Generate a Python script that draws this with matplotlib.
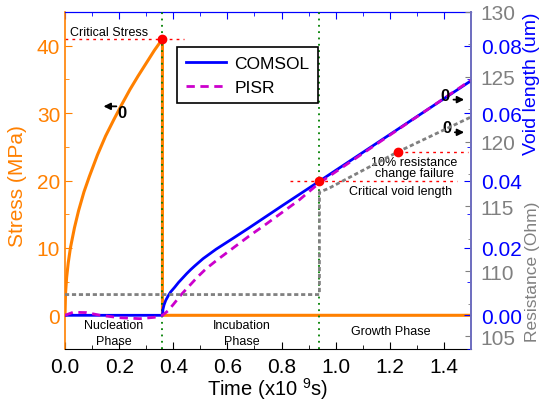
import matplotlib
matplotlib.use('Agg')
import matplotlib.pyplot as plt
from matplotlib.ticker import MultipleLocator

plt.rcParams['font.family'] = ['Liberation Sans', 'DejaVu Sans']
plt.rcParams['mathtext.fontset'] = 'custom'
plt.rcParams['mathtext.rm'] = 'Liberation Sans'

# stress (MPa) vs time (x1e9 s)
stress_t = [0, 0.002, 0.006, 0.012, 0.02, 0.035, 0.05, 0.07, 0.09, 0.12, 0.15, 0.18, 0.21,
            0.24, 0.27, 0.30, 0.33, 0.36, 0.36, 1.5]
stress = [0, 3.3, 5.6, 7.8, 10.0, 13.0, 15.5, 18.3, 20.6, 23.8, 26.6, 29.0, 31.3,
          33.5, 35.5, 37.4, 39.3, 41, 0, 0]

# void length (um)
comsol_t = [0, 0.36, 0.362, 0.366, 0.372, 0.38, 0.39, 0.405, 0.42, 0.435, 0.45, 0.465, 0.48, 0.51,
            0.558, 0.62, 0.681, 0.804, 0.94, 1.5]
comsol_v = [0, 0, 0.0018, 0.0031, 0.0044, 0.0056, 0.0069, 0.0083, 0.0098, 0.0111, 0.0124, 0.0136, 0.0147,
            0.0168, 0.0196, 0.0228, 0.0260, 0.0326, 0.0398, 0.0696]
pisr_t = [0, 0.03, 0.08, 0.13, 0.2, 0.276, 0.33, 0.36, 0.38, 0.40, 0.43, 0.46, 0.49, 0.521, 0.56,
          0.62, 0.68, 0.742, 0.80, 0.865, 0.94, 1.5]
pisr_v = [0, 0.0009, 0.0008, 0.0, -0.0007, -0.001, -0.0006, 0, 0.0013, 0.0032, 0.0062, 0.0088, 0.0114,
          0.0138, 0.0163, 0.0199, 0.0235, 0.0270, 0.0304, 0.0342, 0.0393, 0.0698]

# resistance (Ohm)
res_t = [0, 0.94, 0.94, 0.975, 1.229, 1.5]
res = [108.2, 108.2, 116.1, 116.4, 119.2, 121.9]

# critical points
t_crit = 0.36
stress_crit = 41
t_growth = 0.94
void_crit = 0.04
t_fail = 1.229
res_fail = 119.2

orange = '#ff8000'
blue = '#0000ff'
magenta = '#cc00cc'
gray = '#808080'
green = '#008000'
red = '#ff0000'
spine_r = '#7070c0'

fig = plt.figure(figsize=(5.43, 4.02), dpi=100)
ax = fig.add_axes([65/543, 1-350/402, 406/543, 337/402])
ax2 = ax.twinx()
ax3 = ax.twinx()

# stress
ax.plot(stress_t, stress, color=orange, lw=2.2, zorder=3)
ax.axvline(t_crit, color=green, lw=1.3, ls=(0, (1, 2.5)), zorder=4)
ax.axvline(t_growth, color=green, lw=1.3, ls=(0, (1, 2.5)), zorder=4)
ax.plot([0, 0.44], [stress_crit, stress_crit], color=red, lw=1, ls=(0, (2, 3)))
ax.plot([t_crit], [stress_crit], 'o', color=red, ms=6, zorder=5)
ax.set_xlim(0, 1.5)
ax.set_ylim(-5, 45)

# void length
ax2.plot(comsol_t, comsol_v, color=blue, lw=2, label='COMSOL', zorder=3)
ax2.plot(pisr_t, pisr_v, color=magenta, lw=2, ls=(0, (3, 2)), label='PISR', zorder=3)
ax2.plot([0.83, 1.45], [void_crit, void_crit], color=red, lw=1, ls=(0, (2, 3)))
ax2.plot([t_growth], [void_crit], 'o', color=red, ms=6, zorder=5)
ax2.set_ylim(-0.01, 0.09)

# resistance
ax3.plot(res_t, res, color=gray, lw=2, ls=(0, (1.5, 1)))
ax3.plot([1.23, 1.49], [res_fail, res_fail], color=red, lw=1, ls=(0, (2, 3)))
ax3.plot([t_fail], [res_fail], 'o', color=red, ms=6, zorder=5)
ax3.set_ylim(104, 130)

# ticks
ax.xaxis.set_minor_locator(MultipleLocator(0.1))
ax.yaxis.set_major_locator(MultipleLocator(10))
ax.yaxis.set_minor_locator(MultipleLocator(5))
ax.tick_params(axis='x', which='both', direction='in', labelsize=15, pad=6, color='k')
ax.tick_params(axis='x', which='major', length=5)
ax.tick_params(axis='x', which='minor', length=3)
ax.tick_params(axis='y', which='both', direction='in', colors=orange, labelsize=15)
ax.tick_params(axis='y', which='major', length=5)
ax.tick_params(axis='y', which='minor', length=3)
ax.set_xticks([0, 0.2, 0.4, 0.6, 0.8, 1.0, 1.2, 1.4])
ax.set_xticklabels(['0.0', '0.2', '0.4', '0.6', '0.8', '1.0', '1.2', '1.4'])

ax2.yaxis.set_minor_locator(MultipleLocator(0.01))
ax2.set_yticks([0, 0.02, 0.04, 0.06, 0.08])
ax2.set_yticklabels(['0.00', '0.02', '0.04', '0.06', '0.08'])
ax2.tick_params(axis='y', which='both', direction='in', colors=blue, labelsize=15, pad=7)
ax2.tick_params(axis='y', which='major', length=5)
ax2.tick_params(axis='y', which='minor', length=3)

ax3.set_yticks([105, 110, 115, 120, 125, 130])
ax3.yaxis.set_minor_locator(MultipleLocator(2.5))
ax3.tick_params(axis='y', which='both', direction='in', colors=gray, labelsize=15, pad=7)
ax3.tick_params(axis='y', which='major', length=4)
ax3.tick_params(axis='y', which='minor', length=2)

# top blue ticks
secx = ax.secondary_xaxis('top')
secx.xaxis.set_major_locator(MultipleLocator(0.2))
secx.xaxis.set_minor_locator(MultipleLocator(0.1))
secx.tick_params(which='both', direction='in', colors=blue, labeltop=False)
secx.tick_params(which='major', length=5)
secx.tick_params(which='minor', length=3)
secx.spines['top'].set_color(blue)

# spines
ax.spines['left'].set_color(orange)
ax.spines['left'].set_linewidth(1.2)
ax.spines['top'].set_color(blue)
for a in (ax, ax2, ax3):
    a.spines['right'].set_color(spine_r)
    a.spines['right'].set_linewidth(1.2)
for a in (ax2, ax3):
    a.spines['left'].set_visible(False)
    a.spines['top'].set_visible(False)
    a.spines['bottom'].set_visible(False)

# labels
ax.set_xlabel('Time (x10 $^{9}$s)', fontsize=14.5, labelpad=-1)
fig.text(18/543, 1-186/402, 'Stress (MPa)', color=orange, fontsize=15, rotation=90, ha='center', va='center')
fig.text(531/543, 1-84/402, 'Void length (um)', color=blue, fontsize=14, rotation=90, ha='center', va='center')
fig.text(533/543, 1-272/402, 'Resistance (Ohm)', color=gray, fontsize=12.5, rotation=90, ha='center', va='center')

# annotations
ax.text(0.02, 42.0, 'Critical Stress', fontsize=9, ha='left', va='center')
ax.text(0.18, -2.67, 'Nucleation\nPhase', fontsize=9, ha='center', va='center', linespacing=1.45)
ax.text(0.655, -2.67, 'Incubation\nPhase', fontsize=9, ha='center', va='center', linespacing=1.45)
ax.text(1.205, -2.37, 'Growth Phase', fontsize=9, ha='center', va='center')
ax2.text(1.29, 0.0438, '10% resistance\nchange failure', fontsize=9, ha='center', va='center', linespacing=0.95)
ax2.text(1.24, 0.0369, 'Critical void length', fontsize=9, ha='center', va='center')

# axis indicator symbols
ax.text(0.21, 30.1, '0', fontsize=12, fontweight='bold', ha='center', va='center')
ax.annotate('', xy=(0.132, 31), xytext=(0.2, 31),
            arrowprops=dict(arrowstyle='-|>', color='k', lw=1.3, mutation_scale=10))
ax2.text(1.405, 0.0652, '0', fontsize=12, fontweight='bold', ha='center', va='center')
ax2.annotate('', xy=(1.485, 0.064), xytext=(1.425, 0.064),
             arrowprops=dict(arrowstyle='-|>', color='k', lw=1.3, mutation_scale=10))
ax2.text(1.41, 0.0558, '0', fontsize=12, fontweight='bold', ha='center', va='center')
ax2.annotate('', xy=(1.485, 0.0543), xytext=(1.43, 0.0543),
             arrowprops=dict(arrowstyle='-|>', color='k', lw=1.3, mutation_scale=10))

leg = ax2.legend(loc='upper left', bbox_to_anchor=(0.276, 0.896), fontsize=12.5, handlelength=2.3,
                 handletextpad=0.5, borderaxespad=0, fancybox=False, edgecolor='k', framealpha=1,
                 borderpad=0.5, labelspacing=0.5)
leg.get_frame().set_linewidth(1.2)

fig.savefig('out.png', dpi=100)
